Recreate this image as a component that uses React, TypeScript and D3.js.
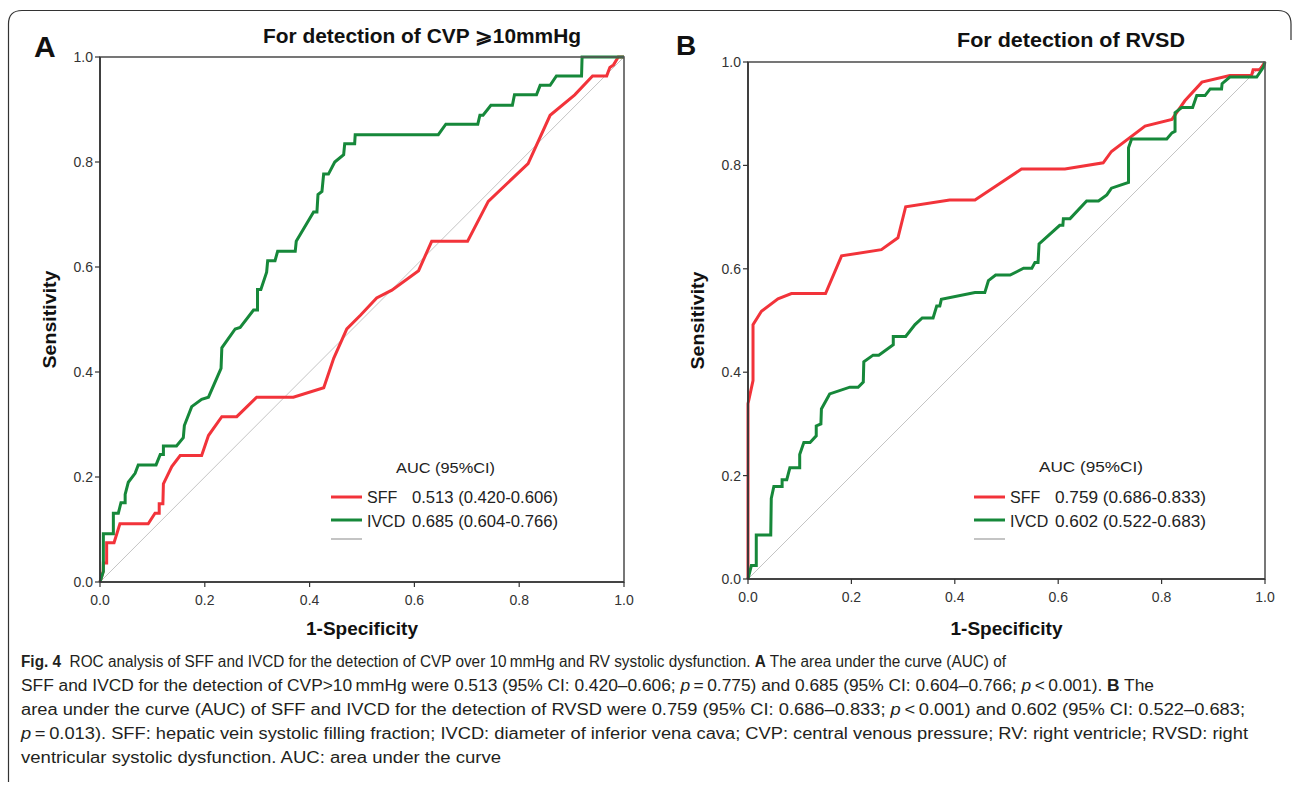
import React from 'react';
import * as d3 from 'd3';

// ROC points: [1-specificity, sensitivity]
const sffCvp: [number, number][] = [
  [0, 0], [0.006, 0.02], [0.0064, 0.036], [0.0127, 0.036], [0.0127, 0.075], [0.0268, 0.075],
  [0.038, 0.111], [0.092, 0.111], [0.105, 0.131], [0.113, 0.131], [0.113, 0.149], [0.12, 0.149],
  [0.121, 0.187], [0.137, 0.22], [0.153, 0.241], [0.194, 0.241], [0.207, 0.279], [0.2325, 0.315],
  [0.261, 0.315], [0.299, 0.352], [0.369, 0.352], [0.427, 0.37], [0.446, 0.426], [0.471, 0.482],
  [0.497, 0.508], [0.528, 0.541], [0.557, 0.556], [0.608, 0.593], [0.633, 0.649], [0.7015, 0.649],
  [0.741, 0.725], [0.817, 0.797], [0.859, 0.889], [0.906, 0.928], [0.94, 0.964], [0.967, 0.964],
  [0.973, 0.98], [0.98, 0.985], [0.989, 1], [1, 1],
];

const ivcdCvp: [number, number][] = [
  [0, 0], [0.0064, 0.02], [0.0064, 0.092], [0.0255, 0.092], [0.0255, 0.131], [0.035, 0.131],
  [0.04, 0.151], [0.048, 0.151], [0.048, 0.167], [0.054, 0.19], [0.067, 0.207], [0.073, 0.223],
  [0.107, 0.223], [0.115, 0.243], [0.121, 0.243], [0.121, 0.259], [0.146, 0.259], [0.159, 0.275],
  [0.161, 0.298], [0.175, 0.334], [0.194, 0.348], [0.207, 0.352], [0.231, 0.407], [0.2325, 0.446],
  [0.258, 0.482], [0.2675, 0.485], [0.293, 0.518], [0.3006, 0.518], [0.3006, 0.557], [0.307, 0.557],
  [0.318, 0.59], [0.32, 0.612], [0.334, 0.612], [0.339, 0.63], [0.3726, 0.63], [0.3745, 0.649],
  [0.4076, 0.705], [0.414, 0.705], [0.416, 0.738], [0.4236, 0.744], [0.4268, 0.777], [0.436, 0.777],
  [0.448, 0.8], [0.465, 0.814], [0.467, 0.835], [0.486, 0.835], [0.487, 0.852], [0.6456, 0.852],
  [0.66, 0.872], [0.721, 0.872], [0.725, 0.889], [0.731, 0.889], [0.746, 0.908], [0.787, 0.908],
  [0.791, 0.928], [0.833, 0.928], [0.84, 0.946], [0.859, 0.946], [0.871, 0.964], [0.919, 0.964],
  [0.92, 1], [1, 1],
];

const sffRvsd: [number, number][] = [
  [0, 0], [0, 0.339], [0.0097, 0.384], [0.0097, 0.492], [0.026, 0.518], [0.058, 0.542],
  [0.084, 0.552], [0.15, 0.552], [0.181, 0.625], [0.258, 0.637], [0.29, 0.66], [0.305, 0.72],
  [0.39, 0.733], [0.439, 0.733], [0.487, 0.765], [0.529, 0.793], [0.613, 0.793], [0.687, 0.805],
  [0.703, 0.827], [0.768, 0.876], [0.82, 0.889], [0.845, 0.925], [0.878, 0.961], [0.932, 0.974],
  [0.974, 0.974], [0.977, 0.985], [0.99, 0.985], [1, 1],
];

const ivcdRvsd: [number, number][] = [
  [0, 0], [0.0065, 0.026], [0.016, 0.026], [0.016, 0.085], [0.044, 0.085], [0.045, 0.156],
  [0.05, 0.179], [0.066, 0.179], [0.066, 0.192], [0.075, 0.192], [0.081, 0.215], [0.1, 0.215],
  [0.1, 0.241], [0.108, 0.264], [0.12, 0.264], [0.132, 0.277], [0.132, 0.296], [0.141, 0.3],
  [0.142, 0.329], [0.158, 0.358], [0.197, 0.371], [0.213, 0.371], [0.223, 0.381], [0.224, 0.42],
  [0.242, 0.433], [0.253, 0.433], [0.281, 0.453], [0.281, 0.469], [0.305, 0.469], [0.323, 0.492],
  [0.337, 0.505], [0.358, 0.505], [0.365, 0.528], [0.371, 0.528], [0.374, 0.541], [0.439, 0.554],
  [0.458, 0.554], [0.465, 0.577], [0.479, 0.588], [0.507, 0.588], [0.533, 0.601], [0.549, 0.601],
  [0.555, 0.612], [0.561, 0.612], [0.563, 0.648], [0.603, 0.684], [0.609, 0.684], [0.61, 0.697],
  [0.623, 0.697], [0.655, 0.731], [0.678, 0.731], [0.694, 0.743], [0.703, 0.756], [0.736, 0.767],
  [0.736, 0.834], [0.742, 0.851], [0.81, 0.851], [0.82, 0.863], [0.826, 0.866], [0.826, 0.902],
  [0.839, 0.912], [0.86, 0.912], [0.868, 0.935], [0.884, 0.935], [0.894, 0.948], [0.916, 0.948],
  [0.917, 0.958], [0.932, 0.971], [0.984, 0.971], [0.997, 0.99], [1, 1],
];

const ticks = [0, 0.2, 0.4, 0.6, 0.8, 1.0];
const seriesNames = ['SFF', 'IVCD'];
const aucCvp = ['0.513 (0.420-0.606)', '0.685 (0.604-0.766)'];
const aucRvsd = ['0.759 (0.686-0.833)', '0.602 (0.522-0.683)'];

const RED = '#f2333a';
const GREEN = '#16883a';
const GREY = '#c4c4c4';
const ARIAL = '"Liberation Sans", Arial, sans-serif';

type PanelProps = {
  left: number; right: number; top: number; bottom: number;
  letter: string; letterX: number; letterY: number; letterSize: number;
  title: string; titleX: number; titleY: number; titleLen: number;
  curves: [number, number][][];
  auc: string[];
  leg: { x: number; headX: number; headY: number; headLen: number; valX: number; valLen: number };
};

function Panel(p: PanelProps) {
  const x = d3.scaleLinear().domain([0, 1]).range([p.left, p.right]);
  const y = d3.scaleLinear().domain([0, 1]).range([p.bottom, p.top]);
  const line = d3.line<[number, number]>().x((d) => x(d[0])).y((d) => y(d[1]));
  const colors = [RED, GREEN];
  const cx = (p.left + p.right) / 2;
  const cy = (p.top + p.bottom) / 2;

  return (
    <g>
      <text x={p.letterX} y={p.letterY} fontFamily={ARIAL} fontWeight="bold" fontSize={p.letterSize} fill="#111">{p.letter}</text>
      <text x={p.titleX} y={p.titleY} textAnchor="middle" fontFamily={ARIAL} fontWeight="bold" fontSize={20}
        textLength={p.titleLen} lengthAdjust="spacingAndGlyphs" fill="#111">{p.title}</text>

      {/* diagonal reference */}
      <path d={line([[0, 0], [1, 1]])!} stroke={GREY} strokeWidth={1} fill="none" />

      {p.curves.map((c, i) => (
        <path key={i} d={line(c)!} stroke={colors[i]} strokeWidth={3} fill="none" strokeLinejoin="miter" />
      ))}

      {/* frame */}
      <rect x={p.left} y={p.top} width={p.right - p.left} height={p.bottom - p.top} fill="none" stroke="#555" strokeWidth={1.6} />
      <line x1={p.left} x2={p.left} y1={p.top} y2={p.bottom} stroke="#333" strokeWidth={1.6} />
      <line x1={p.left} x2={p.right} y1={p.bottom} y2={p.bottom} stroke="#333" strokeWidth={1.6} />

      {ticks.map((t) => (
        <g key={'y' + t}>
          <line x1={p.left - 5} x2={p.left} y1={y(t)} y2={y(t)} stroke="#333" strokeWidth={1.2} />
          <text x={p.left - 7} y={y(t) + 5} textAnchor="end" fontFamily={ARIAL} fontSize={14} fill="#333">{t.toFixed(1)}</text>
        </g>
      ))}
      {ticks.map((t) => (
        <g key={'x' + t}>
          <line x1={x(t)} x2={x(t)} y1={p.bottom} y2={p.bottom + 5} stroke="#333" strokeWidth={1.2} />
          <text x={x(t)} y={p.bottom + 23} textAnchor="middle" fontFamily={ARIAL} fontSize={14} fill="#333">{t.toFixed(1)}</text>
        </g>
      ))}

      <text x={cx} y={635} textAnchor="middle" fontFamily={ARIAL} fontWeight="bold" fontSize={18}
        textLength={112} lengthAdjust="spacingAndGlyphs" fill="#111">1-Specificity</text>
      <text transform={`translate(${p.left - 44},${cy}) rotate(-90)`} textAnchor="middle" fontFamily={ARIAL}
        fontWeight="bold" fontSize={18} textLength={98} lengthAdjust="spacingAndGlyphs" fill="#111">Sensitivity</text>

      {/* legend */}
      <text x={p.leg.headX} y={p.leg.headY} fontFamily={ARIAL} fontSize={15} textLength={p.leg.headLen}
        lengthAdjust="spacingAndGlyphs" fill="#222">AUC (95%CI)</text>
      {seriesNames.map((name, i) => (
        <g key={name}>
          <line x1={p.leg.x} x2={p.leg.x + 31} y1={497 + i * 23} y2={497 + i * 23} stroke={colors[i]} strokeWidth={3} />
          <text x={p.leg.x + 36} y={503 + i * 24} fontFamily={ARIAL} fontSize={16} fill="#222">{name}</text>
          <text x={p.leg.valX} y={503 + i * 24} fontFamily={ARIAL} fontSize={16} textLength={p.leg.valLen}
            lengthAdjust="spacingAndGlyphs" fill="#222">{p.auc[i]}</text>
        </g>
      ))}
      <line x1={p.leg.x} x2={p.leg.x + 31} y1={539} y2={539} stroke={GREY} strokeWidth={2} />
    </g>
  );
}

const CAP = '"Liberation Sans Narrow", "Liberation Sans", sans-serif';

function Caption() {
  const lines: { y: number; len: number; parts: [string, string][] }[] = [
    { y: 667, len: 985, parts: [['b', 'Fig. 4'], ['', '  ROC analysis of SFF and IVCD for the detection of CVP over 10\u2009mmHg and RV systolic dysfunction. '], ['b', 'A'], ['', ' The area under the curve (AUC) of']] },
    { y: 691, len: 1133, parts: [['', 'SFF and IVCD for the detection of CVP>10\u2009mmHg were 0.513 (95% CI: 0.420\u20130.606; '], ['i', 'p'], ['', '\u2009=\u20090.775) and 0.685 (95% CI: 0.604\u20130.766; '], ['i', 'p'], ['', '\u2009<\u20090.001). '], ['b', 'B'], ['', ' The']] },
    { y: 715, len: 1224, parts: [['', 'area under the curve (AUC) of SFF and IVCD for the detection of RVSD were 0.759 (95% CI: 0.686\u20130.833; '], ['i', 'p'], ['', '\u2009<\u20090.001) and 0.602 (95% CI: 0.522\u20130.683;']] },
    { y: 739, len: 1227, parts: [['i', 'p'], ['', '\u2009=\u20090.013). SFF: hepatic vein systolic filling fraction; IVCD: diameter of inferior vena cava; CVP: central venous pressure; RV: right ventricle; RVSD: right']] },
    { y: 763, len: 480, parts: [['', 'ventricular systolic dysfunction. AUC: area under the curve']] },
  ];
  return (
    <g>
      {lines.map((l, i) => (
        <text key={i} x={21} y={l.y} fontFamily={CAP} fontSize={16} fill="#231f20" textLength={l.len} lengthAdjust="spacingAndGlyphs"
          style={{ whiteSpace: 'pre' }}>
          {l.parts.map(([k, s], j) => (
            <tspan key={j} fontWeight={k === 'b' ? 'bold' : 'normal'} fontStyle={k === 'i' ? 'italic' : 'normal'}>{s}</tspan>
          ))}
        </text>
      ))}
    </g>
  );
}

export default function App() {
  return (
    <svg width={1293} height={787} style={{ position: 'absolute', left: 0, top: 0, background: '#fff' }}>
      <rect width={1293} height={787} fill="#fff" />
      <path d="M 8.5 782 L 8.5 24 Q 8.5 10.5 22 10.5 L 1278 10.5 Q 1291 10.5 1291 24 L 1291 40" fill="none" stroke="#333" strokeWidth={1.2} />

      <Panel left={100} right={624} top={57} bottom={582}
        letter="A" letterX={34} letterY={57} letterSize={30}
        title="For detection of CVP ⩾10mmHg" titleX={422} titleY={43} titleLen={318}
        curves={[sffCvp, ivcdCvp]} auc={aucCvp}
        leg={{ x: 331, headX: 396, headY: 473, headLen: 99, valX: 412, valLen: 146 }} />

      <Panel left={748} right={1265} top={62} bottom={579}
        letter="B" letterX={676} letterY={55} letterSize={28}
        title="For detection of RVSD" titleX={1071} titleY={47} titleLen={228}
        curves={[sffRvsd, ivcdRvsd]} auc={aucRvsd}
        leg={{ x: 974, headX: 1039, headY: 472, headLen: 104, valX: 1055, valLen: 151 }} />

      <Caption />
    </svg>
  );
}
